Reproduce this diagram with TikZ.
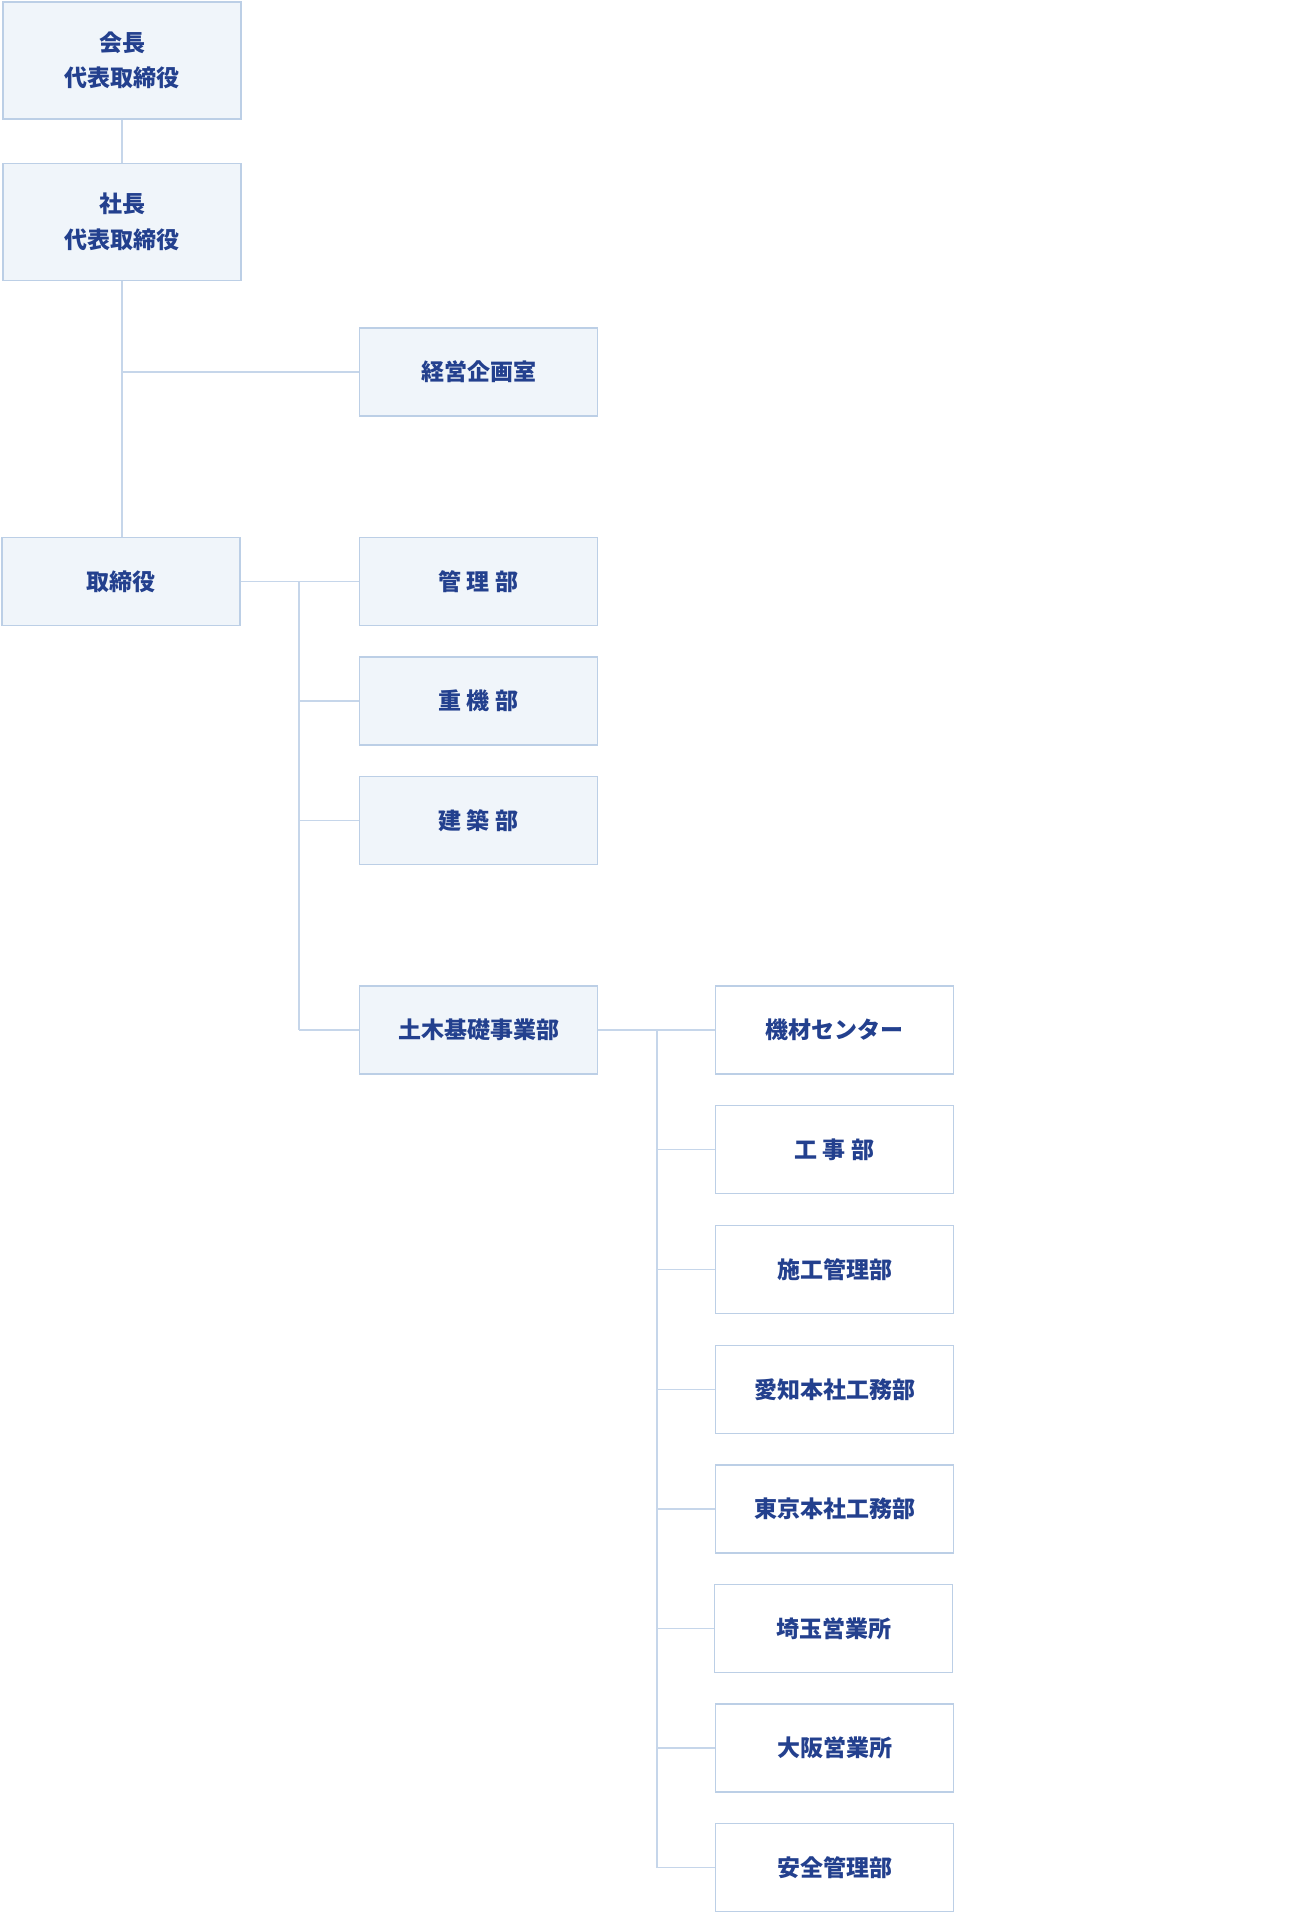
\documentclass[tikz,border=0pt]{standalone}
\usepackage{fontspec}
\setmainfont{Noto Sans CJK JP}
\usepackage{tikz}
\usepackage{xcolor}
\definecolor{boxfill}{HTML}{F0F5FA}
\definecolor{boxline}{HTML}{BCCFE6}
\definecolor{linkline}{HTML}{C6D6EA}
\definecolor{navy}{HTML}{23408E}

\begin{document}
\begin{tikzpicture}[x=1pt, y=-1pt,
  unit/.style={draw=boxline, line width=1.5pt, fill=boxfill, minimum width=238pt, minimum height=88pt, inner sep=0pt, align=center, text=navy, font=\fontsize{23}{35.5}\selectfont\bfseries},
  topunit/.style={unit, minimum height=117pt},
  subunit/.style={unit, fill=white},
  link/.style={draw=linkline, line width=1.5pt}]
\useasboundingbox (0,0) rectangle (1316,1916);

\node[topunit] (kaicho) at (122, 60.5) {会長\\代表取締役};
\node[topunit] (shacho) at (122, 222) {社長\\代表取締役};
\node[unit] (kikaku) at (478.5, 372) {経営企画室};
\node[unit] (torishimari) at (121, 581.5) {取締役};
\node[unit] (kanri) at (478.5, 581.5) {管 理 部};
\node[unit] (juki) at (478.5, 701) {重 機 部};
\node[unit] (kenchiku) at (478.5, 820.5) {建 築 部};
\node[unit] (doboku) at (478.5, 1030) {土木基礎事業部};

\node[subunit] (kizai) at (834.5, 1030) {機材センター};
\node[subunit] (koji) at (834.5, 1149.5) {工 事 部};
\node[subunit] (sekou) at (834.5, 1269.5) {施工管理部};
\node[subunit] (aichi) at (834.5, 1389.5) {愛知本社工務部};
\node[subunit] (tokyo) at (834.5, 1509) {東京本社工務部};
\node[subunit] (saitama) at (833.5, 1628.5) {埼玉営業所};
\node[subunit] (osaka) at (834.5, 1748) {大阪営業所};
\node[subunit] (anzen) at (834.5, 1867.5) {安全管理部};

\coordinate (trunk1) at (299, 581.5);
\coordinate (trunk2) at (657, 1030);

\draw[link] (kaicho) -- (shacho);
\draw[link] (shacho.south) -- (shacho.south |- torishimari.north);
\draw[link] (shacho.south |- kikaku.west) -- (kikaku.west);
\draw[link] (torishimari) -- (kanri);
\draw[link] (trunk1) -- (trunk1 |- doboku.west);
\draw[link] (trunk1 |- juki.west) -- (juki.west);
\draw[link] (trunk1 |- kenchiku.west) -- (kenchiku.west);
\draw[link] (trunk1 |- doboku.west) -- (doboku.west);
\draw[link] (doboku) -- (kizai);
\draw[link] (trunk2) -- (trunk2 |- anzen.west);
\draw[link] (trunk2 |- koji.west) -- (koji.west);
\draw[link] (trunk2 |- sekou.west) -- (sekou.west);
\draw[link] (trunk2 |- aichi.west) -- (aichi.west);
\draw[link] (trunk2 |- tokyo.west) -- (tokyo.west);
\draw[link] (trunk2 |- saitama.west) -- (saitama.west);
\draw[link] (trunk2 |- osaka.west) -- (osaka.west);
\draw[link] (trunk2 |- anzen.west) -- (anzen.west);

\end{tikzpicture}
\end{document}
